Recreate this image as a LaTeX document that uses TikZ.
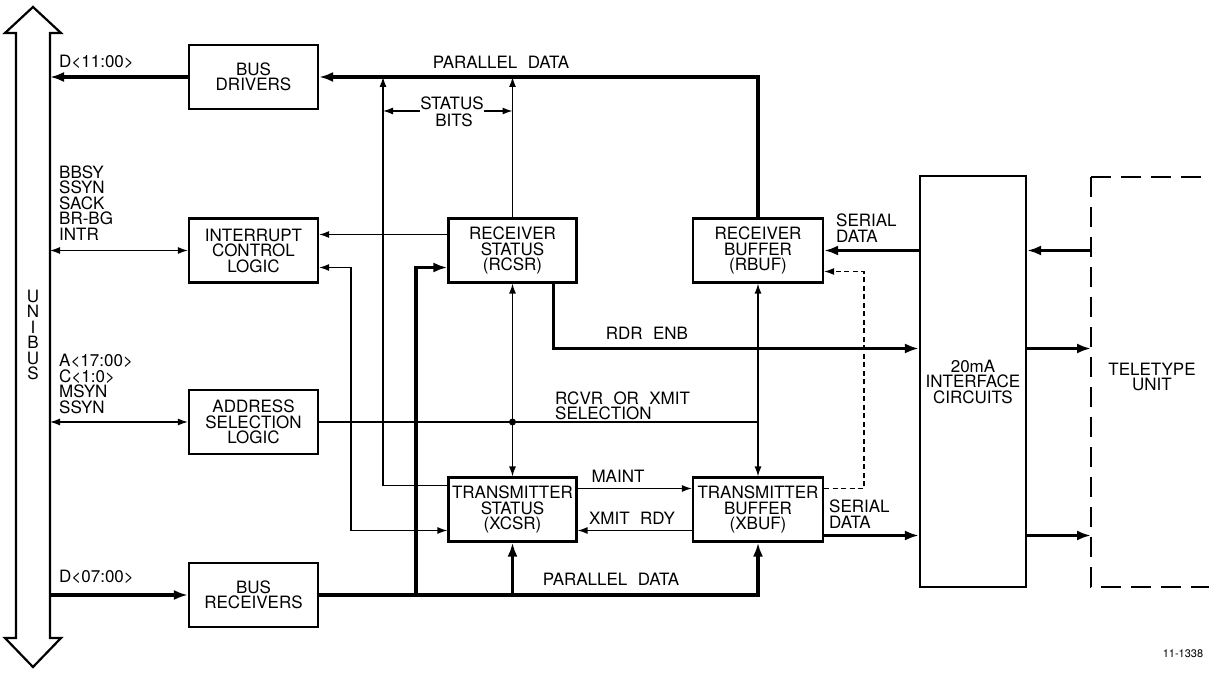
\documentclass[tikz,border=0pt]{standalone}
\usepackage{fontspec}
\setmainfont{TeX Gyre Heros}[WordSpace=2.2]
\usetikzlibrary{arrows.meta}

\begin{document}
\begin{tikzpicture}[x=1pt, y=-1pt,
  every node/.style={font=\fontsize{17}{15.5}\selectfont, inner sep=0pt, align=center},
  blk/.style={draw, line width=2.2pt, minimum width=129pt, minimum height=64pt},
  thn/.style={line width=1.3pt},
  thk/.style={line width=3.5pt, >={Latex[length=14pt,width=10pt]}},
  >={Latex[length=10pt,width=7pt]}]
  \useasboundingbox (0,0) rectangle (1209,676);
  \draw[line width=2.2pt, line join=miter] (33,7) -- (61,33) -- (50,33) -- (50,638) -- (61,638)
    -- (33,667) -- (5,638) -- (16,638) -- (16,33) -- (5,33) -- cycle;
  \node (ub) at (33,335) {U\\N\\I\\B\\U\\S};
  \coordinate (bD) at (50,77);
  \coordinate (bI) at (50,250.5);
  \coordinate (bA) at (50,422);
  \coordinate (bR) at (50,595);

  \node[blk] (drivers) at (253.5,77) {BUS\\DRIVERS};
  \node[blk] (intr) at (253.5,250.5) {INTERRUPT\\CONTROL\\LOGIC};
  \node[blk] (addr) at (253.5,422) {ADDRESS\\SELECTION\\LOGIC};
  \node[blk] (rcvrs) at (253.5,595) {BUS\\RECEIVERS};
  \node[blk, minimum width=128pt] (rcsr) at (512.5,250.5) {RECEIVER\\STATUS\\(RCSR)};
  \node[blk, minimum width=128pt] (xcsr) at (512.5,509.5) {TRANSMITTER\\STATUS\\(XCSR)};
  \node[blk, minimum width=130pt] (rbuf) at (758,250.5) {RECEIVER\\BUFFER\\(RBUF)};
  \node[blk, minimum width=130pt] (xbuf) at (758,509.5) {TRANSMITTER\\BUFFER\\(XBUF)};
  \node[blk, minimum width=106pt, minimum height=411pt] (iface) at (973,381.5) {20mA\\INTERFACE\\CIRCUITS};
  \draw[line width=2.2pt, dash pattern=on 20pt off 10pt] (1091,177) -- (1215,177);
  \draw[line width=2.2pt, dash pattern=on 20pt off 10pt] (1091,177) -- (1091,587) -- (1215,587);
  \coordinate (ttyw) at (1091,381.5);
  \node (ltty) at (1152,377) {TELETYPE\\UNIT};

  \draw[thk,->] (drivers.west) -- (bD);
  \draw[thk,->] (rbuf.north) |- (drivers.east);
  \draw[thn,->] (rcsr.north) -- (rcsr.north |- drivers.east);
  \coordinate (pd) at (383,77);
  \draw[thn,->] ([yshift=-9pt]xcsr.north west) -| (pd);
  \node (stat) at (452,103) {STATUS};
  \node (bits) at (454,120) {BITS};
  \draw[thn,->] ([yshift=-8pt]stat.west) -- ([yshift=-8pt]stat.west -| pd);
  \draw[thn,->] ([yshift=-8pt]stat.east) -- ([yshift=-8pt]stat.east -| rcsr.north);

  \draw[thn,->] ([yshift=16pt]rcsr.west) -- ([yshift=16pt]intr.east);
  \draw[thn,<->] ([yshift=-17pt]intr.east) -- ++(32,0) |- ([yshift=-21pt]xcsr.west);
  \draw[thn,<->] (bI) -- (intr.west);
  \draw[thn,<->] (bA) -- (addr.west);
  \draw[thk,->] (bR) -- (rcvrs.west);
  \draw[thk,->] (rcvrs.east) -| (xbuf.south);
  \draw[thk,->] (rcvrs.east -| xcsr.south) -- (xcsr.south);
  \coordinate (jr) at (416,595);
  \draw[thk,->] (jr) |- ([yshift=-17pt]rcsr.west);
  \draw[thk,->] ([xshift=41pt]rcsr.south) |- ([yshift=33pt]iface.west);
  \draw[thn,<->] (rcsr.south) -- (xcsr.north);
  \draw[thn,<->] (rbuf.south) -- (xbuf.north);
  \draw[thn] (addr.east) -- (addr.east -| rbuf.south);
  \fill (addr.east -| rcsr.south) circle (3.5pt);

  \draw[thn,->] ([yshift=21pt]xcsr.east) -- ([yshift=21pt]xbuf.west);
  \draw[thn,->] ([yshift=-21pt]xbuf.west) -- ([yshift=-21pt]xcsr.east);
  \draw[thn,->,dash pattern=on 5pt off 3.5pt] ([yshift=21pt]xbuf.east) -- ++(40,0) |- ([yshift=-21pt]rbuf.east);
  \coordinate (sd) at ([yshift=-26pt]xbuf.east);
  \coordinate (te) at ([yshift=33pt]iface.east);
  \draw[thk,->] (rbuf.east -| iface.west) -- (rbuf.east);
  \draw[thk,->] (rbuf.east -| ttyw) -- (rbuf.east -| iface.east);
  \draw[thk,->] (te) -- (te -| ttyw);
  \draw[thk,->] (sd) -- (sd -| iface.west);
  \draw[thk,->] (sd -| iface.east) -- (sd -| ttyw);

  \node[anchor=west] (ldh) at (59,62) {D<11:00>};
  \node[anchor=west, align=left] (lint) at (59,203) {BBSY\\SSYN\\SACK\\BR-BG\\INTR};
  \node[anchor=west, align=left] (ladr) at (59,384) {A<17:00>\\C<1:0>\\MSYN\\SSYN};
  \node[anchor=west] (ldl) at (59,577) {D<07:00>};
  \node (lpdt) at (501,62) {PARALLEL DATA};
  \node (lpdb) at (611,579) {PARALLEL DATA};
  \node (lrdr) at (647,333) {RDR ENB};
  \node[anchor=west, align=left] (lsel) at (555,406) {RCVR OR XMIT\\SELECTION};
  \node (lmnt) at (618,476) {MAINT};
  \node (lrdy) at (632,518) {XMIT RDY};
  \node[anchor=west, align=left] (lsdt) at (836,228) {SERIAL\\DATA};
  \node[anchor=west, align=left] (lsdb) at (829,514) {SERIAL\\DATA};
  \node[font=\fontsize{11}{12}\selectfont] (fig) at (1183,654) {11-1338};
\end{tikzpicture}
\end{document}
